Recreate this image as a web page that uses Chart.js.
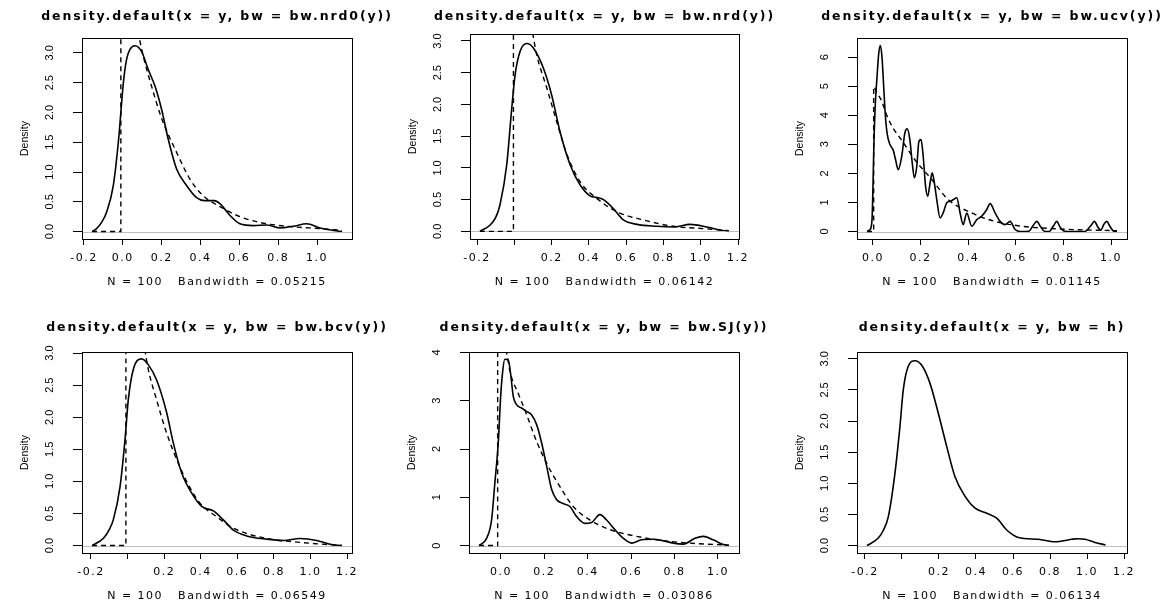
<!DOCTYPE html>
<html>
<head>
<meta charset="utf-8">
<script src="https://cdn.jsdelivr.net/npm/chart.js@4.4.1/dist/chart.umd.min.js"></script>
<style>
  html, body { margin: 0; padding: 0; background: #fff; }
  body { width: 1175px; height: 603px; position: relative; overflow: hidden; }
  canvas { position: absolute; }
</style>
</head>
<body>
<script>
// values

const titles = [
    'density.default(x = y, bw = bw.nrd0(y))',
    'density.default(x = y, bw = bw.nrd(y))',
    'density.default(x = y, bw = bw.ucv(y))',
    'density.default(x = y, bw = bw.bcv(y))',
    'density.default(x = y, bw = bw.SJ(y))',
    'density.default(x = y, bw = h)'
];
const subtitles = [
    'N = 100   Bandwidth = 0.05215',
    'N = 100   Bandwidth = 0.06142',
    'N = 100   Bandwidth = 0.01145',
    'N = 100   Bandwidth = 0.06549',
    'N = 100   Bandwidth = 0.03086',
    'N = 100   Bandwidth = 0.06134'
];

// solid curves (density estimates)
const nrd0X = [-0.158, -0.135, -0.11, -0.083, -0.049, -0.02, -0.01, 0.003, 0.02, 0.037, 0.063, 0.097, 0.131, 0.166, 0.2, 0.234, 0.277, 0.329, 0.38, 0.42, 0.47, 0.5, 0.552, 0.603, 0.672, 0.741, 0.81, 0.878, 0.947, 1.015, 1.084, 1.129];
const nrd0Y = [0, 0.05, 0.15, 0.33, 0.77, 1.6, 2.0, 2.5, 2.9, 3.06, 3.12, 3.02, 2.72, 2.44, 2.05, 1.55, 1.05, 0.77, 0.57, 0.52, 0.52, 0.47, 0.27, 0.13, 0.1, 0.11, 0.06, 0.09, 0.13, 0.06, 0.02, 0];

const nrdX = [-0.185, -0.13, -0.1, -0.077, -0.041, -0.014, 0.004, 0.031, 0.067, 0.102, 0.156, 0.2, 0.245, 0.299, 0.353, 0.406, 0.45, 0.478, 0.531, 0.585, 0.657, 0.764, 0.853, 0.943, 1.032, 1.104, 1.151];
const nrdY = [0, 0.1, 0.22, 0.42, 1.05, 1.94, 2.47, 2.84, 2.96, 2.89, 2.57, 2.15, 1.57, 1.05, 0.73, 0.56, 0.53, 0.5, 0.36, 0.18, 0.11, 0.08, 0.07, 0.11, 0.07, 0.02, 0];

const ucvX = [-0.025, -0.012, -0.004, 0.0, 0.004, 0.01, 0.017, 0.024, 0.031, 0.038, 0.045, 0.052, 0.06, 0.071, 0.085, 0.095, 0.106, 0.121, 0.134, 0.144, 0.155, 0.165, 0.174, 0.184, 0.193, 0.202, 0.211, 0.221, 0.23, 0.24, 0.249, 0.258, 0.268, 0.282, 0.295, 0.31, 0.324, 0.338, 0.352, 0.366, 0.379, 0.394, 0.415, 0.436, 0.457, 0.478, 0.492, 0.513, 0.534, 0.555, 0.576, 0.597, 0.62, 0.655, 0.672, 0.688, 0.703, 0.72, 0.74, 0.757, 0.772, 0.786, 0.805, 0.89, 0.915, 0.93, 0.945, 0.957, 0.97, 0.982, 0.995, 1.01, 1.025];
const ucvY = [0, 0.07, 0.4, 1.5, 3.0, 4.4, 5.3, 6.1, 6.4, 6.0, 5.0, 4.0, 3.35, 3.0, 2.8, 2.47, 2.13, 2.59, 3.39, 3.53, 3.16, 2.36, 1.85, 2.24, 3.1, 3.16, 2.59, 1.56, 1.21, 1.67, 2.02, 1.67, 1.1, 0.47, 0.64, 0.99, 1.04, 1.1, 1.16, 0.64, 0.24, 0.64, 0.18, 0.41, 0.53, 0.76, 0.96, 0.64, 0.35, 0.24, 0.35, 0.07, 0, 0.01, 0.2, 0.35, 0.18, 0.01, 0, 0.18, 0.35, 0.15, 0.01, 0, 0.2, 0.35, 0.15, 0.05, 0.25, 0.35, 0.18, 0.02, 0];

const bcvX = [-0.194, -0.133, -0.1, -0.078, -0.041, -0.014, 0.004, 0.031, 0.077, 0.113, 0.159, 0.214, 0.25, 0.296, 0.35, 0.405, 0.469, 0.524, 0.579, 0.651, 0.761, 0.852, 0.943, 1.034, 1.107, 1.172];
const bcvY = [0, 0.11, 0.25, 0.4, 0.92, 1.65, 2.27, 2.74, 2.91, 2.82, 2.58, 2.07, 1.6, 1.13, 0.82, 0.61, 0.54, 0.4, 0.24, 0.15, 0.1, 0.08, 0.11, 0.08, 0.02, 0];

const sjX = [-0.101, -0.066, -0.043, -0.028, -0.012, -0.001, 0.008, 0.018, 0.034, 0.045, 0.057, 0.072, 0.095, 0.118, 0.141, 0.165, 0.188, 0.211, 0.234, 0.257, 0.287, 0.318, 0.349, 0.387, 0.418, 0.456, 0.487, 0.525, 0.564, 0.602, 0.648, 0.702, 0.748, 0.794, 0.84, 0.894, 0.932, 0.978, 1.025, 1.051];
const sjY = [0, 0.15, 0.53, 1.29, 2.14, 3.1, 3.6, 3.86, 3.84, 3.55, 3.09, 2.92, 2.85, 2.78, 2.71, 2.5, 2.12, 1.64, 1.16, 0.95, 0.87, 0.81, 0.6, 0.46, 0.48, 0.64, 0.53, 0.33, 0.15, 0.05, 0.12, 0.13, 0.1, 0.05, 0.03, 0.15, 0.19, 0.12, 0.02, 0];

const hX = [-0.189, -0.128, -0.1, -0.074, -0.038, -0.011, 0.007, 0.034, 0.07, 0.106, 0.151, 0.196, 0.242, 0.286, 0.341, 0.395, 0.458, 0.512, 0.566, 0.629, 0.737, 0.827, 0.917, 0.95, 0.989, 1.043, 1.1];
const hY = [0, 0.12, 0.25, 0.46, 1.16, 1.91, 2.5, 2.88, 2.97, 2.9, 2.61, 2.13, 1.59, 1.11, 0.79, 0.6, 0.52, 0.44, 0.25, 0.13, 0.1, 0.06, 0.1, 0.11, 0.1, 0.05, 0.01];

// dashed reference curves
const nrd0RefX = [-0.158, -0.01, -0.01, 0.02, 0.05, 0.085, 0.105, 0.15, 0.2, 0.277, 0.346, 0.414, 0.5, 0.603, 0.741, 0.878, 1.015, 1.129];
const nrd0RefY = [0, 0, 4.9, 4.4, 3.85, 3.25, 2.95, 2.42, 1.9, 1.33, 0.88, 0.6, 0.42, 0.25, 0.13, 0.08, 0.05, 0.02];

const nrdRefX = [-0.185, -0.005, -0.005, 0.03, 0.06, 0.099, 0.12, 0.174, 0.228, 0.281, 0.353, 0.442, 0.55, 0.692, 0.853, 1.032, 1.151];
const nrdRefY = [0, 0, 4.9, 4.3, 3.8, 3.11, 2.78, 2.26, 1.72, 1.22, 0.78, 0.52, 0.31, 0.18, 0.08, 0.04, 0.01];

const ucvRefX = [-0.025, 0.003, 0.003, 0.015, 0.036, 0.058, 0.085, 0.12, 0.176, 0.247, 0.316, 0.415, 0.499, 0.61, 0.807, 1.025];
const ucvRefY = [0, 0, 4.98, 4.8, 4.5, 4.0, 3.55, 3.15, 2.47, 1.79, 1.1, 0.64, 0.38, 0.2, 0.08, 0.03];

const bcvRefX = [-0.194, -0.009, -0.009, 0.03, 0.06, 0.095, 0.113, 0.159, 0.214, 0.269, 0.323, 0.396, 0.487, 0.579, 0.761, 0.943, 1.172];
const bcvRefY = [0, 0, 4.9, 4.3, 3.8, 3.05, 2.75, 2.27, 1.75, 1.34, 1.0, 0.66, 0.45, 0.27, 0.11, 0.05, 0];

const sjRefX = [-0.101, -0.015, -0.015, 0.026, 0.045, 0.08, 0.118, 0.165, 0.218, 0.272, 0.333, 0.41, 0.502, 0.594, 0.717, 0.871, 1.051];
const sjRefY = [0, 0, 4.9, 4.0, 3.55, 3.15, 2.72, 2.15, 1.64, 1.22, 0.81, 0.53, 0.33, 0.22, 0.12, 0.05, 0.01];

// axis ranges and ticks
const xLimits = [[-0.21, 1.18], [-0.238, 1.205], [-0.067, 1.067], [-0.249, 1.227], [-0.147, 1.097], [-0.243, 1.216]];
const yLimits = [[-0.125, 3.25], [-0.12, 3.11], [-0.256, 6.656], [-0.116, 3.017], [-0.154, 4.01], [-0.12, 3.11]];

const xTicksA = [-0.2, 0, 0.2, 0.4, 0.6, 0.8, 1.0];
const xLabelsA = ['-0.2', '0.0', '0.2', '0.4', '0.6', '0.8', '1.0'];
const xTicksB = [-0.2, 0, 0.2, 0.4, 0.6, 0.8, 1.0, 1.2];
const xLabelsB = ['-0.2', '', '0.2', '0.4', '0.6', '0.8', '1.0', '1.2'];
const xTicksC = [0, 0.2, 0.4, 0.6, 0.8, 1.0];
const xLabelsC = ['0.0', '0.2', '0.4', '0.6', '0.8', '1.0'];

const yTicksHalf = [0, 0.5, 1, 1.5, 2, 2.5, 3];
const yLabelsHalf = ['0.0', '0.5', '1.0', '1.5', '2.0', '2.5', '3.0'];
const yTicksSix = [0, 1, 2, 3, 4, 5, 6];
const yLabelsSix = ['0', '1', '2', '3', '4', '5', '6'];
const yTicksFour = [0, 1, 2, 3, 4];
const yLabelsFour = ['0', '1', '2', '3', '4'];

const panels = [
    { xs: nrd0X, ys: nrd0Y, refX: nrd0RefX, refY: nrd0RefY, xTicks: xTicksA, xLabels: xLabelsA, yTicks: yTicksHalf, yLabels: yLabelsHalf },
    { xs: nrdX, ys: nrdY, refX: nrdRefX, refY: nrdRefY, xTicks: xTicksB, xLabels: xLabelsB, yTicks: yTicksHalf, yLabels: yLabelsHalf },
    { xs: ucvX, ys: ucvY, refX: ucvRefX, refY: ucvRefY, xTicks: xTicksC, xLabels: xLabelsC, yTicks: yTicksSix, yLabels: yLabelsSix },
    { xs: bcvX, ys: bcvY, refX: bcvRefX, refY: bcvRefY, xTicks: xTicksB, xLabels: xLabelsB, yTicks: yTicksHalf, yLabels: yLabelsHalf },
    { xs: sjX, ys: sjY, refX: sjRefX, refY: sjRefY, xTicks: xTicksC, xLabels: xLabelsC, yTicks: yTicksFour, yLabels: yLabelsFour },
    { xs: hX, ys: hY, refX: null, refY: null, xTicks: xTicksB, xLabels: xLabelsB, yTicks: yTicksHalf, yLabels: yLabelsHalf }
];

// page layout: plot boxes in page pixels
const boxes = [
    { l: 82, t: 38, r: 352, b: 239, row: 0 },
    { l: 470, t: 34, r: 739, b: 239, row: 0 },
    { l: 857, t: 38, r: 1127, b: 239, row: 0 },
    { l: 82, t: 352, r: 352, b: 553, row: 1 },
    { l: 469, t: 352, r: 739, b: 553, row: 1 },
    { l: 857, t: 352, r: 1127, b: 553, row: 1 }
];
const rowTop = [0, 311];
const titleMid = [17, 328];
const WIDE = "'DejaVu Sans', sans-serif";
const NARROW = "'Liberation Sans', Arial, sans-serif";
const Y_AXIS_W = 82;
const X_AXIS_H = 50.1;

// the original device draws horizontal text wide; emulate with letter spacing
function wideText(ctx) {
    const fill = ctx.fillText.bind(ctx);
    ctx.fillText = function (text, x, y) {
        const f = ctx.font;
        ctx.letterSpacing = f.includes('bold') ? '1.9px' : (f.includes('DejaVu') ? '1.5px' : '0px');
        fill(text, x, y);
    };
}

const frame = {
    id: 'frame',
    afterDatasetDraw(chart, args) {
        // grey zero line sits on top of the estimate, below the dashed curve
        if (args.index !== 0) return;
        const { ctx, chartArea } = chart;
        const y0 = Math.round(chart.scales.y.getPixelForValue(0)) + 0.5;
        ctx.save();
        ctx.strokeStyle = '#bebebe';
        ctx.lineWidth = 1;
        ctx.beginPath();
        ctx.moveTo(chartArea.left, y0);
        ctx.lineTo(chartArea.right, y0);
        ctx.stroke();
        ctx.restore();
    },
    afterDatasetsDraw(chart) {
        const { ctx, chartArea } = chart;
        ctx.save();
        ctx.strokeStyle = '#000';
        ctx.lineWidth = 1;
        ctx.strokeRect(Math.round(chartArea.left) + 0.5, Math.round(chartArea.top) + 0.5,
            Math.round(chartArea.right - chartArea.left), Math.round(chartArea.bottom - chartArea.top));
        ctx.restore();
    }
};

panels.forEach((p, i) => {
    const box = boxes[i];
    const x0 = box.l - Y_AXIS_W;
    const y0 = rowTop[box.row];
    const w = 400;
    const h = box.b - y0 + 51;

    const cv = document.createElement('canvas');
    cv.width = w;
    cv.height = h;
    cv.style.left = x0 + 'px';
    cv.style.top = y0 + 'px';
    document.body.appendChild(cv);
    const ctx = cv.getContext('2d');
    wideText(ctx);

    const titleTop = titleMid[box.row] - y0 - 7.5;
    const yTickPad = p.yLabels[0].length > 1 ? 15.2 : 19.6;

    const datasets = [{
        data: p.xs.map((x, k) => ({ x: x, y: p.ys[k] })),
        borderColor: '#000',
        borderWidth: 1.6,
        pointRadius: 0,
        cubicInterpolationMode: 'monotone',
        clip: 0,
        order: 2
    }];
    if (p.refX) {
        datasets.push({
            data: p.refX.map((x, k) => ({ x: x, y: p.refY[k] })),
            borderColor: '#000',
            borderWidth: 1.4,
            borderDash: [5, 4],
            pointRadius: 0,
            cubicInterpolationMode: 'monotone',
            clip: 0,
            order: 1
        });
    }

    new Chart(ctx, {
        type: 'line',
        data: { datasets: datasets },
        options: {
            responsive: false,
            animation: false,
            events: [],
            layout: {
                padding: {
                    left: 0,
                    top: 0,
                    right: w - Y_AXIS_W - (box.r - box.l),
                    bottom: h - (box.b - y0) - X_AXIS_H
                }
            },
            plugins: {
                legend: { display: false },
                tooltip: { enabled: false },
                title: {
                    display: true,
                    text: titles[i],
                    fullSize: false,
                    color: '#000',
                    font: { family: WIDE, size: 12.5, weight: 'bold', lineHeight: 1.2 },
                    padding: { top: titleTop, bottom: box.t - y0 - titleTop - 15 }
                }
            },
            scales: {
                x: {
                    type: 'linear',
                    min: xLimits[i][0],
                    max: xLimits[i][1],
                    afterBuildTicks: (s) => { s.ticks = p.xTicks.map(v => ({ value: v })); },
                    afterFit: (s) => { s.height = X_AXIS_H; },
                    grid: { drawOnChartArea: false, color: '#000', tickLength: 6, lineWidth: 1 },
                    border: { display: false },
                    ticks: {
                        autoSkip: false,
                        maxRotation: 0,
                        color: '#000',
                        padding: 6.9,
                        font: { family: WIDE, size: 11 },
                        callback: (v, k) => p.xLabels[k]
                    },
                    title: {
                        display: true,
                        text: subtitles[i],
                        color: '#000',
                        padding: 0,
                        font: { family: WIDE, size: 11 }
                    }
                },
                y: {
                    type: 'linear',
                    min: yLimits[i][0],
                    max: yLimits[i][1],
                    afterBuildTicks: (s) => { s.ticks = p.yTicks.map(v => ({ value: v })); },
                    afterFit: (s) => { s.width = Y_AXIS_W; },
                    grid: { drawOnChartArea: false, color: '#000', tickLength: 9, lineWidth: 1 },
                    border: { display: false },
                    ticks: {
                        autoSkip: false,
                        minRotation: 90,
                        maxRotation: 90,
                        crossAlign: 'center',
                        color: '#000',
                        padding: yTickPad,
                        font: { family: NARROW, size: 11 },
                        callback: (v, k) => p.yLabels[k]
                    },
                    title: {
                        display: true,
                        text: 'Density',
                        color: '#000',
                        padding: { top: 19.2, bottom: 0 },
                        font: { family: NARROW, size: 10.5 }
                    }
                }
            }
        },
        plugins: [frame]
    });
});
</script>
</body>
</html>
